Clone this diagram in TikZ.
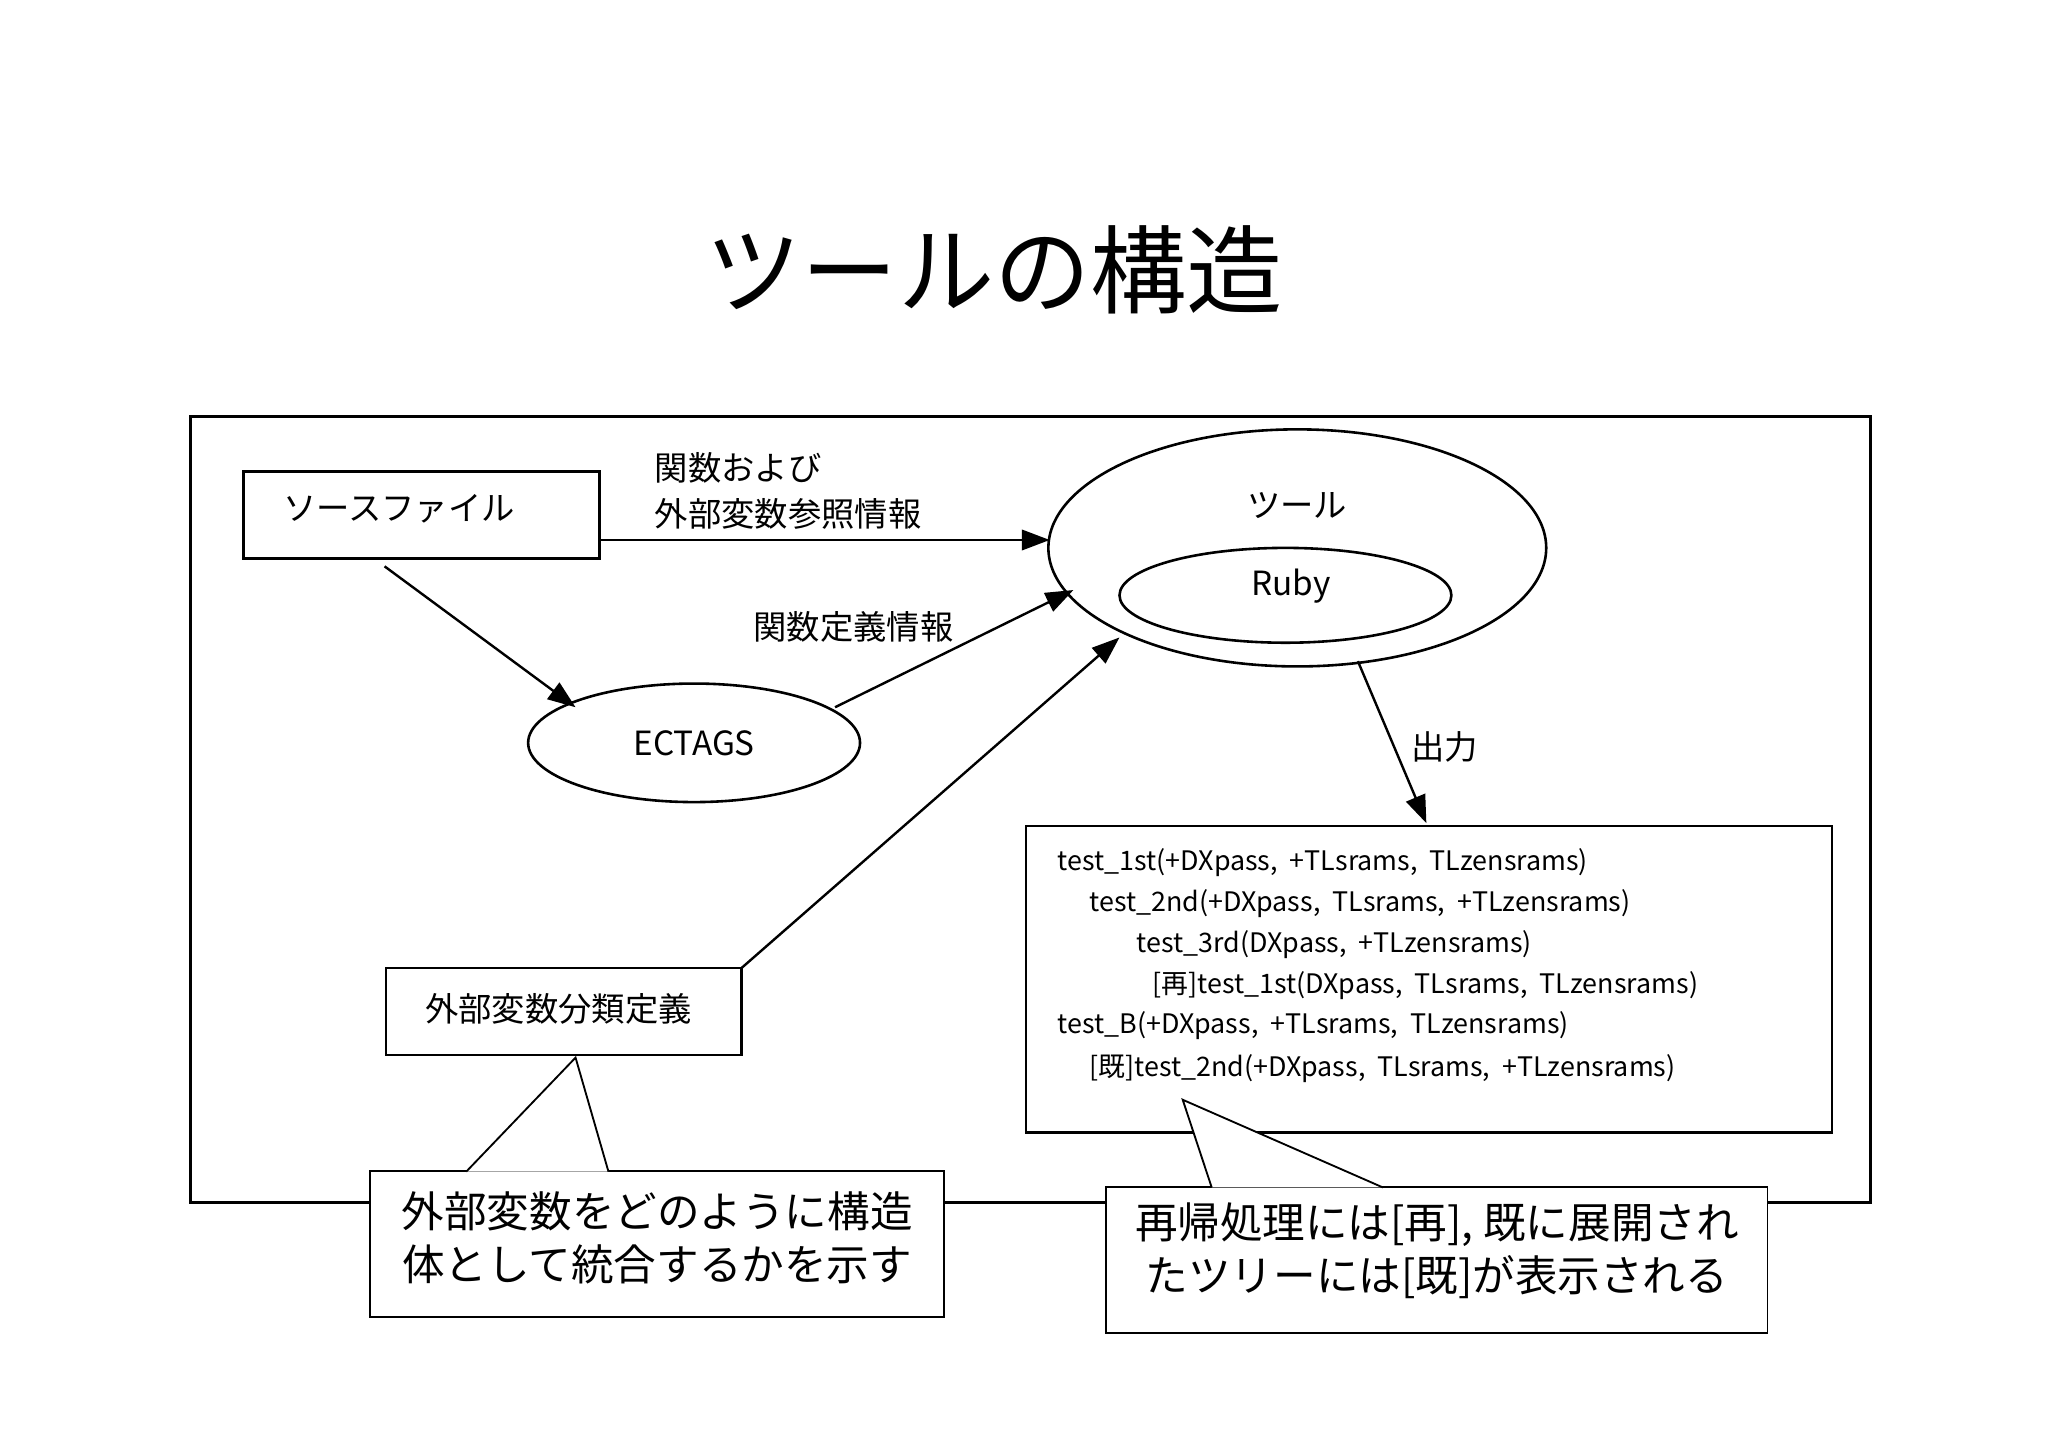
\documentclass[tikz,border=0pt]{standalone}
\usepackage{fontspec}
\setmainfont{Noto Sans CJK JP}
\usetikzlibrary{arrows.meta,shapes.geometric}
\begin{document}
\begin{tikzpicture}[x=0.25mm,y=-0.25mm,
  box/.style={draw,line width=1.4pt,inner sep=0pt},
  ell/.style={draw,ellipse,line width=1.4pt,inner sep=0pt},
  arr/.style={line width=1.3pt,-{Triangle[length=15pt,width=11pt]}},
  lbl/.style={font=\fontsize{18}{20}\selectfont,inner sep=0pt},
  mono/.style={font=\fontsize{14.5}{16}\selectfont,anchor=west,inner sep=0pt},
  call/.style={draw,line width=1pt,fill=white,inner sep=0pt},
  ctext/.style={font=\fontsize{23}{26}\selectfont,inner sep=0pt}]
\useasboundingbox (0,0) rectangle (1555,1100);
\node[inner sep=0pt,font=\fontsize{52}{56}\selectfont] (title) at (755,205) {ツールの構造};
\draw[line width=1.6pt] (145,316) rectangle (1420,913);
\node[box,minimum width=270*0.25mm,minimum height=66*0.25mm] (src) at (320,391) {};
\node[lbl] at (303,386) {ソースファイル};
\node[lbl,anchor=west] (l1) at (497,355) {関数および};
\node[lbl,anchor=west] (l2) at (497,390) {外部変数参照情報};
\node[ell,minimum width=378*0.25mm,minimum height=180*0.25mm] (tool) at (985,416) {};
\node[lbl] at (985,384) {ツール};
\node[ell,minimum width=252*0.25mm,minimum height=72*0.25mm] (ruby) at (976,452) {};
\node[lbl] at (980,445) {Ruby};
\node[ell,minimum width=252*0.25mm,minimum height=90*0.25mm] (ect) at (527,564) {};
\node[lbl] at (527,564) {ECTAGS};
\node[lbl] (l3) at (648,476) {関数定義情報};
\node[box,minimum width=270*0.25mm,minimum height=66*0.25mm] (cls) at (428,768) {};
\node[lbl] at (424,766) {外部変数分類定義};
\node[lbl] (l4) at (1097,567) {出力};
\node[box,minimum width=612*0.25mm,minimum height=233*0.25mm] (out) at (1085,743.5) {};
\node[mono] at (803,655) {test\_1st(+DXpass,\ \ +TLsrams,\ \ TLzensrams)};
\node[mono] at (827,686) {test\_2nd(+DXpass,\ \ TLsrams,\ \ +TLzensrams)};
\node[mono] at (863,717) {test\_3rd(DXpass,\ \ +TLzensrams)};
\node[mono] at (875,748) {[再]test\_1st(DXpass,\ \ TLsrams,\ \ TLzensrams)};
\node[mono] at (803,779) {test\_B(+DXpass,\ \ +TLsrams,\ \ TLzensrams)};
\node[mono] at (827,811) {[既]test\_2nd(+DXpass,\ \ TLsrams,\ \ +TLzensrams)};
\coordinate (a1) at (455,410); \coordinate (a1e) at (797,410);
\draw[arr] (a1) -- (a1e);
\coordinate (a2) at (292,430); \coordinate (a2e) at (437,537);
\draw[arr] (a2) -- (a2e);
\coordinate (a3) at (634,537); \coordinate (a3e) at (815,448);
\draw[arr] (a3) -- (a3e);
\coordinate (a4) at (563,735); \coordinate (a4e) at (850,484);
\draw[arr] (a4) -- (a4e);
\coordinate (a5) at (1031,502); \coordinate (a5e) at (1083,625);
\draw[arr] (a5) -- (a5e);
% callout 1
\node[call,minimum width=436*0.25mm,minimum height=111*0.25mm] (c1) at (499,944.5) {};
\coordinate (p1) at (437,803);
\draw[line width=1pt,fill=white] (354,889.6) -- (p1) -- (462,889.6);
\node[ctext] at (499,920) {外部変数をどのように構造};
\node[ctext] at (499,960) {体として統合するかを示す};
% callout 2
\node[call,minimum width=502*0.25mm,minimum height=111*0.25mm] (c2) at (1091,956.5) {};
\coordinate (p2) at (898,835);
\draw[line width=1pt,fill=white] (920,901.6) -- (p2) -- (1050,901.6);
\node[ctext] at (1091,930) {再帰処理には[再], 既に展開され};
\node[ctext] at (1091,970) {たツリーには[既]が表示される};
\end{tikzpicture}
\end{document}
